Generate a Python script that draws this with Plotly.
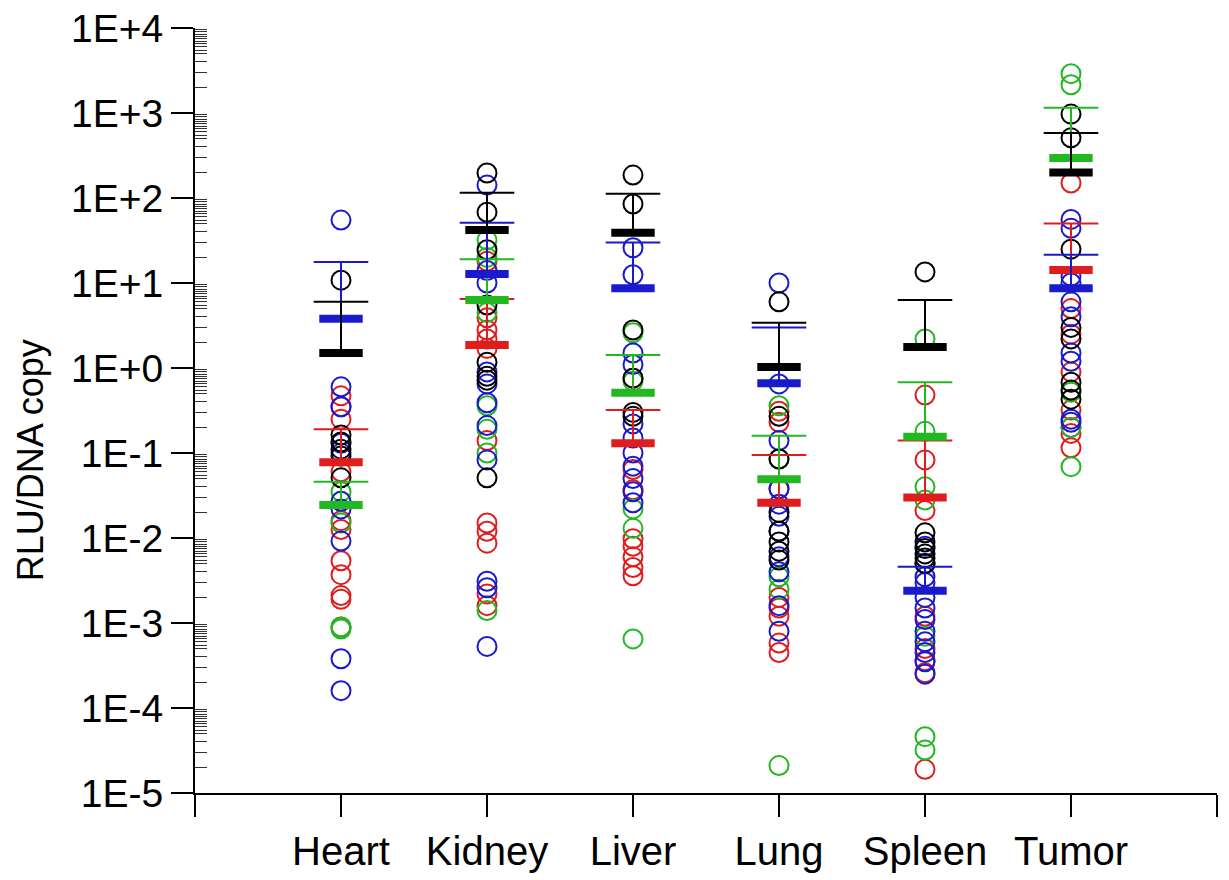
import plotly.graph_objects as go

# Tissues on the x axis (positions 1..6, with empty end slots at 0 and 7)
tissues = ["Heart", "Kidney", "Liver", "Lung", "Spleen", "Tumor"]

# Individual RLU/DNA copy values, one list per tissue, per group
black_points = [
    [10.8, 0.163, 0.135, 0.111, 0.092, 0.051],
    [197, 68, 24.6, 5.5, 1.17, 0.8, 0.72, 0.051],
    [186, 85, 2.8, 0.76, 0.3, 0.27],
    [6.0, 0.27, 0.085, 0.02, 0.012, 0.009, 0.007, 0.0055],
    [13.5, 0.0115, 0.009, 0.0075, 0.0065, 0.0058, 0.005],
    [970, 510, 25, 3.0, 2.2, 0.68, 0.55, 0.43],
]
blue_points = [
    [55, 0.6, 0.35, 0.13, 0.1, 0.027, 0.022, 0.0092, 3.8e-4, 1.6e-4],
    [142, 14, 10, 0.9, 0.65, 0.39, 0.21, 0.083, 0.0031, 0.0026, 5.3e-4],
    [26, 12.5, 1.5, 1.1, 0.22, 0.15, 0.1, 0.07, 0.05, 0.035, 0.026],
    [10, 0.65, 0.14, 0.038, 0.025, 0.018, 0.012, 0.006, 0.004, 0.0016, 8e-4],
    [0.008, 0.005, 0.0035, 0.003, 0.002, 0.0015, 0.0011, 8e-4, 6e-4, 4.5e-4, 3.5e-4, 2.5e-4],
    [56, 44, 12, 10, 6.0, 4.0, 1.5, 1.2, 0.25, 0.23],
]
green_points = [
    [0.035, 0.027, 0.015, 9e-4, 8.5e-4],
    [32, 20, 4.5, 0.36, 0.19, 0.1, 0.0014],
    [2.6, 0.7, 0.022, 0.013, 6.5e-4],
    [0.36, 0.085, 0.0035, 0.0025, 2.1e-5],
    [2.2, 0.18, 0.04, 0.028, 7e-4, 4.6e-5, 3.2e-5],
    [2900, 2150, 0.52, 0.2, 0.069],
]
red_points = [
    [0.47, 0.35, 0.25, 0.06, 0.016, 0.0126, 0.0054, 0.0037, 0.0021, 0.0019, 9e-4],
    [18, 3.9, 2.8, 2.2, 1.7, 0.14, 0.015, 0.012, 0.0087, 0.0022, 0.0016],
    [0.76, 0.064, 0.037, 0.0098, 0.008, 0.006, 0.0045, 0.0036],
    [0.31, 0.23, 0.038, 0.002, 0.0015, 0.0012, 5.8e-4, 4.5e-4],
    [0.48, 0.083, 0.021, 0.0012, 5e-4, 3.6e-4, 2.6e-4, 1.9e-5],
    [150, 5.0, 2.5, 0.9, 0.32, 0.2, 0.17, 0.115],
]

# Group means and upper error limits per tissue
black_mean = [1.5, 42, 39, 1.03, 1.77, 200]
black_upper = [6.0, 115, 112, 3.4, 6.3, 580]
blue_mean = [3.8, 12.8, 8.7, 0.66, 0.0024, 8.7]
blue_upper = [17.7, 51, 30, 3.0, 0.0046, 21.5]
green_mean = [0.0245, 6.3, 0.51, 0.049, 0.155, 295]
green_upper = [0.046, 19, 1.42, 0.16, 0.68, 1150]
red_mean = [0.078, 1.86, 0.13, 0.026, 0.03, 14.2]
red_upper = [0.19, 6.5, 0.32, 0.095, 0.14, 50]

# y-axis decade labels
decades = list(range(-5, 5))
decade_labels = ["1E%+d" % k for k in decades]

BLACK = "#000000"
BLUE = "#1a1acc"
GREEN = "#22b822"
RED = "#e01c1c"

FONT = "Liberation Sans, Arial, sans-serif"

groups = [
    (red_points, red_mean, red_upper, RED),
    (green_points, green_mean, green_upper, GREEN),
    (blue_points, blue_mean, blue_upper, BLUE),
    (black_points, black_mean, black_upper, BLACK),
]

fig = go.Figure()

# open-circle markers for the individual samples
for pts, _, _, color in groups:
    xs, ys = [], []
    for i, vals in enumerate(pts):
        xs += [i + 1] * len(vals)
        ys += vals
    fig.add_trace(go.Scatter(
        x=xs, y=ys, mode="markers",
        marker=dict(symbol="circle-open", size=19, color=color,
                    line=dict(width=2, color=color)),
        hoverinfo="y",
    ))

# mean bars with an upward error line and a thin cap on top
for _, mean, upper, color in groups:
    xs = [i + 1 for i in range(len(tissues))]
    fig.add_trace(go.Scatter(
        x=xs, y=mean, mode="markers",
        marker=dict(symbol="line-ew", size=31, color=color,
                    line=dict(width=8, color=color)),
        error_y=dict(type="data", symmetric=False,
                     array=[u - m for u, m in zip(upper, mean)],
                     arrayminus=[0] * len(mean),
                     width=0, thickness=2, color=color),
        hoverinfo="y",
    ))
    fig.add_trace(go.Scatter(
        x=xs, y=upper, mode="markers",
        marker=dict(symbol="line-ew", size=39, color=color,
                    line=dict(width=2, color=color)),
        hoverinfo="y",
    ))

# minor tick positions inside each decade
mantissas = [2, 3, 4, 5, 5.5, 6, 6.5, 7, 7.5, 8, 8.5, 9, 9.5]
minor_vals = [m * 10 ** k for k in range(-5, 4) for m in mantissas]

fig.update_layout(
    width=1229, height=880, autosize=False,
    margin=dict(l=195, r=12, t=28, b=87),
    paper_bgcolor="white", plot_bgcolor="white",
    showlegend=False,
    font=dict(family=FONT, color="black"),
    xaxis=dict(
        range=[0, 7], tickmode="array",
        tickvals=list(range(0, 8)),
        ticktext=[""] + tissues + [""],
        ticks="outside", ticklen=22, tickwidth=2, tickcolor="black",
        showline=True, linewidth=2, linecolor="black",
        showgrid=False, zeroline=False, automargin=False,
        tickfont=dict(size=40, family=FONT, color="black"),
    ),
    yaxis=dict(
        type="log", range=[-5, 4], tickmode="array",
        tickvals=[10 ** k for k in decades], ticktext=decade_labels,
        ticks="outside", ticklen=22, tickwidth=2, tickcolor="black",
        showline=True, linewidth=2, linecolor="black",
        showgrid=False, zeroline=False, automargin=False,
        tickfont=dict(size=39, family=FONT, color="black"),
        minor=dict(tickmode="array", tickvals=minor_vals, ticks="inside",
                   ticklen=12, tickwidth=1.2, tickcolor="#333333",
                   showgrid=False),
    ),
    annotations=[dict(
        text="RLU/DNA copy", xref="paper", yref="paper",
        x=0, y=0.435, xshift=-165, textangle=-90,
        xanchor="center", yanchor="middle", showarrow=False,
        font=dict(size=36, family=FONT, color="black"),
    )],
)

fig.write_html("out.html")
